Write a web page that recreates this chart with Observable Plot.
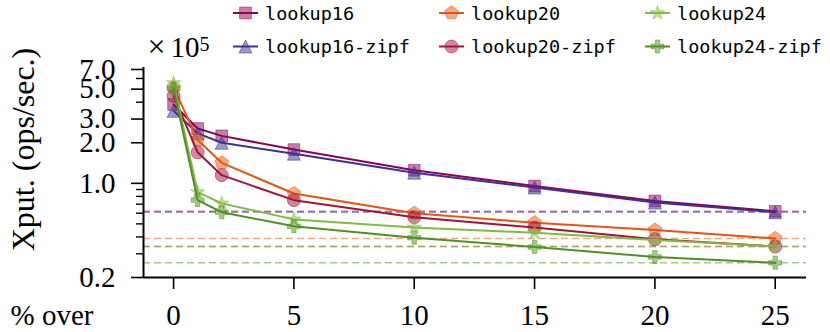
<!DOCTYPE html>
<html><head><meta charset="utf-8">
<script src="https://cdn.jsdelivr.net/npm/d3@7"></script>
<script src="https://cdn.jsdelivr.net/npm/@observablehq/plot@0.6"></script>
<style>
body{margin:0;background:#fff;}
#wrap{position:relative;width:830px;height:332px;}
#legend{position:absolute;left:0;top:0;pointer-events:none;}
</style></head><body><div id="wrap"></div>
<script>
// ---- data (throughput, units of 10^5 ops/sec) ----
const xValues = [0, 1, 2, 5, 10, 15, 20, 25];
const seriesNames = ["lookup16", "lookup16-zipf", "lookup20", "lookup20-zipf", "lookup24", "lookup24-zipf"];
const lookup16      = [3.85, 2.55, 2.25, 1.78, 1.25, 0.955, 0.74, 0.62];
const lookup16Zipf  = [3.45, 2.35, 2.00, 1.66, 1.20, 0.93, 0.72, 0.61];
const lookup20      = [5.15, 2.10, 1.42, 0.84, 0.60, 0.51, 0.45, 0.39];
const lookup20Zipf  = [4.45, 1.70, 1.15, 0.75, 0.56, 0.47, 0.385, 0.34];
const lookup24      = [5.55, 0.86, 0.71, 0.54, 0.47, 0.43, 0.38, 0.34];
const lookup24Zipf  = [5.05, 0.75, 0.61, 0.48, 0.395, 0.337, 0.284, 0.257];
const seriesValues = [lookup16, lookup16Zipf, lookup20, lookup20Zipf, lookup24, lookup24Zipf];
const colors = ["#8e0152", "#3d2f96", "#e6550d", "#a3123a", "#7fbc41", "#4d9221"];
const xTicks = [0, 5, 10, 15, 20, 25];
const yTicks = [0.2, 1, 2, 3, 5, 7];
const yMinorTicks = [0.3, 0.4, 0.5, 0.6, 0.7, 0.8, 0.9, 4, 6];

// ---- matplotlib-like marker shapes ----
function poly(ctx, pts) { ctx.moveTo(pts[0][0], pts[0][1]); for (let i = 1; i < pts.length; i++) ctx.lineTo(pts[i][0], pts[i][1]); ctx.closePath(); }
const rad = size => Math.sqrt(size / Math.PI);
const mSquare = {draw(ctx, size) { const R = rad(size) * 0.9; poly(ctx, [[-R,-R],[R,-R],[R,R],[-R,R]]); }};
const mTriangle = {draw(ctx, size) { const R = rad(size); poly(ctx, [[0,-R],[R,R],[-R,R]]); }};
const mPentagon = {draw(ctx, size) { const R = rad(size) * 1.1; poly(ctx, d3.range(5).map(k => { const a = -Math.PI/2 + k*2*Math.PI/5; return [R*Math.cos(a), R*Math.sin(a)]; })); }};
const mCircle = {draw(ctx, size) { const R = rad(size); ctx.moveTo(R, 0); ctx.arc(0, 0, R, 0, 2*Math.PI); ctx.closePath(); }};
const mStar = {draw(ctx, size) { const R = rad(size) * 1.15; poly(ctx, d3.range(10).map(k => { const a = -Math.PI/2 + k*Math.PI/5; const r = k % 2 ? R*0.381966 : R; return [r*Math.cos(a), r*Math.sin(a)]; })); }};
const mPlus = {draw(ctx, size) { const s = rad(size) / 3; poly(ctx, [[-1,-3],[1,-3],[1,-1],[3,-1],[3,1],[1,1],[1,3],[-1,3],[-1,1],[-3,1],[-3,-1],[-1,-1]].map(([a,b]) => [a*s, b*s])); }};
const symbols = [mSquare, mTriangle, mPentagon, mCircle, mStar, mPlus];

const rows = seriesNames.flatMap((s, i) => xValues.map((x, j) => ({series: s, x, y: seriesValues[i][j]})));
const lastRows = seriesNames.map((s, i) => ({series: s, y: seriesValues[i][seriesValues[i].length - 1]}));

const xDomain = [-1.25, 26.3];
const yDomain = [0.2, 7.24];

const marks = [
  Plot.ruleY(lastRows, {y: "y", stroke: "series", strokeOpacity: 0.5, strokeWidth: 1.5, strokeDasharray: "7,4"})
];
seriesNames.forEach((s, i) => {
  const data = rows.filter(d => d.series === s);
  marks.push(Plot.line(data, {x: "x", y: "y", stroke: "series", strokeWidth: 2}));
  marks.push(Plot.dot(data, {x: "x", y: "y", r: 6.5, symbol: symbols[i], fill: "series", fillOpacity: 0.5, stroke: "series", strokeOpacity: 0.5, strokeWidth: 1}));
});
marks.push(
  Plot.ruleX([xDomain[0]], {strokeWidth: 2}),
  Plot.ruleY([yDomain[0]], {strokeWidth: 2}),
  Plot.axisY(yTicks, {anchor: "left", tickSize: 12, strokeWidth: 1.6, tickFormat: () => "", label: null}),
  Plot.text(yTicks, {y: d => d, text: d => d3.format(".1f")(d), frameAnchor: "left", dx: -28, textAnchor: "end", lineAnchor: "middle"}),
  Plot.axisY(yMinorTicks, {anchor: "left", tickSize: 7, strokeWidth: 1.4, tickFormat: () => "", label: null}),
  Plot.axisX(xTicks, {anchor: "bottom", tickSize: 12, tickPadding: 15, strokeWidth: 1.6, tickFormat: d3.format("d"), label: null}),
  Plot.text(["Xput. (ops/sec.)"], {text: d => d, frameAnchor: "left", rotate: -90, dx: -120, dy: -23, fontSize: 32, letterSpacing: 1.6, textAnchor: "middle", lineAnchor: "middle"}),
  Plot.text(["% over"], {text: d => d, frameAnchor: "bottom-left", dx: -133, dy: 38.7, textAnchor: "start", lineAnchor: "middle"}),
  Plot.text(["×"], {text: d => d, frameAnchor: "top-left", dx: 13, dy: -21, fontSize: 32, textAnchor: "middle", lineAnchor: "middle"}),
  Plot.text(["10"], {text: d => d, frameAnchor: "top-left", dx: 27, dy: -20, textAnchor: "start", lineAnchor: "middle"}),
  Plot.text(["5"], {text: d => d, frameAnchor: "top-left", dx: 56, dy: -23, fontSize: 20, textAnchor: "start", lineAnchor: "middle"})
);

const chart = Plot.plot({
  width: 830, height: 332,
  marginLeft: 143, marginRight: 24, marginTop: 67, marginBottom: 55,
  style: {fontFamily: "'Liberation Serif', serif", fontSize: "29px", background: "white", color: "black", overflow: "visible"},
  x: {type: "linear", domain: xDomain},
  y: {type: "log", domain: yDomain},
  color: {domain: seriesNames, range: colors},
  marks
});
document.getElementById("wrap").appendChild(chart);

// ---- legend (3 columns x 2 rows) ----
const legend = d3.select("#wrap").append("svg").attr("id", "legend").attr("width", 830).attr("height", 64);
const colX = [233, 439, 645], rowY = [13, 46.5];
seriesNames.forEach((name, i) => {
  const x0 = colX[Math.floor(i / 2)], yc = rowY[i % 2];
  const g = legend.append("g");
  g.append("line").attr("x1", x0).attr("x2", x0 + 25).attr("y1", yc).attr("y2", yc).attr("stroke", colors[i]).attr("stroke-width", 2);
  g.append("path").attr("d", d3.symbol(symbols[i], Math.PI * 6.5 * 6.5)()).attr("transform", `translate(${x0 + 12.5},${yc})`)
    .attr("fill", colors[i]).attr("fill-opacity", 0.5).attr("stroke", colors[i]).attr("stroke-opacity", 0.5);
  g.append("text").attr("x", x0 + 32).attr("y", yc + 6.5).attr("font-family", "'DejaVu Sans Mono', monospace").attr("font-size", 18.5).attr("fill", "black").text(name);
});
</script></body></html>
